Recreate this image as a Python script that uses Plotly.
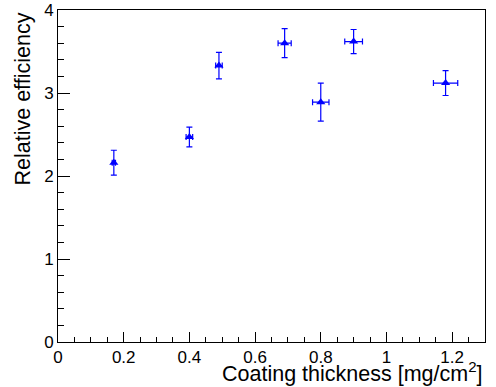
import plotly.graph_objects as go

# coating thickness [mg/cm2] and relative efficiency, with errors
thickness = [0.17, 0.40, 0.49, 0.69, 0.80, 0.90, 1.18]
thickness_err = [0.005, 0.01, 0.01, 0.02, 0.025, 0.027, 0.037]
efficiency = [2.16, 2.47, 3.33, 3.60, 2.89, 3.62, 3.12]
efficiency_err = [0.15, 0.12, 0.16, 0.175, 0.23, 0.145, 0.15]

fig = go.Figure()

fig.add_trace(go.Scatter(
    x=thickness,
    y=efficiency,
    mode='markers',
    marker=dict(symbol='triangle-up', size=8, color='#0000ff'),
    error_x=dict(type='data', array=thickness_err, color='#0000ff', thickness=1.2, width=3),
    error_y=dict(type='data', array=efficiency_err, color='#0000ff', thickness=1.2, width=3),
    showlegend=False
))

font_family = "Liberation Sans, Arial, sans-serif"

fig.update_layout(
    width=496,
    height=387,
    margin=dict(l=58, r=11, t=10, b=45, autoexpand=False),
    paper_bgcolor='white',
    plot_bgcolor='white',
    font=dict(family=font_family, color='black'),
    xaxis=dict(
        range=[0, 1.3],
        tickmode='array',
        tickvals=[0, 0.2, 0.4, 0.6, 0.8, 1, 1.2],
        ticktext=['0', '0.2', '0.4', '0.6', '0.8', '1', '1.2'],
        ticks='inside', ticklen=10, tickwidth=1, tickcolor='black',
        minor=dict(dtick=0.05, tick0=0, ticks='inside', ticklen=5, tickcolor='black'),
        showline=True, linecolor='black', linewidth=1, mirror=True,
        showgrid=False, zeroline=False,
        tickfont=dict(size=17),
    ),
    yaxis=dict(
        range=[0, 4],
        tickmode='array',
        tickvals=[0, 1, 2, 3, 4],
        ticks='inside', ticklen=12, tickwidth=1, tickcolor='black',
        minor=dict(dtick=0.2, tick0=0, ticks='inside', ticklen=6, tickcolor='black'),
        showline=True, linecolor='black', linewidth=1, mirror=True,
        showgrid=False, zeroline=False,
        tickfont=dict(size=17),
    ),
    annotations=[
        dict(text='Coating thickness [mg/cm<sup>2</sup>]', xref='paper', yref='paper',
             x=1.0, y=0, xanchor='right', yanchor='top', yshift=-14,
             showarrow=False, font=dict(size=21.5)),
        dict(text='Relative efficiency', xref='paper', yref='paper',
             x=0, y=1.0, xanchor='right', yanchor='top', xshift=-22, yshift=-1,
             textangle=-90, showarrow=False, font=dict(size=21.5)),
    ],
)

# drop the default body margin so the figure sits at the page corner
fig.write_html("out.html", config={"displayModeBar": False},
               post_script="document.body.style.margin='0px';")
